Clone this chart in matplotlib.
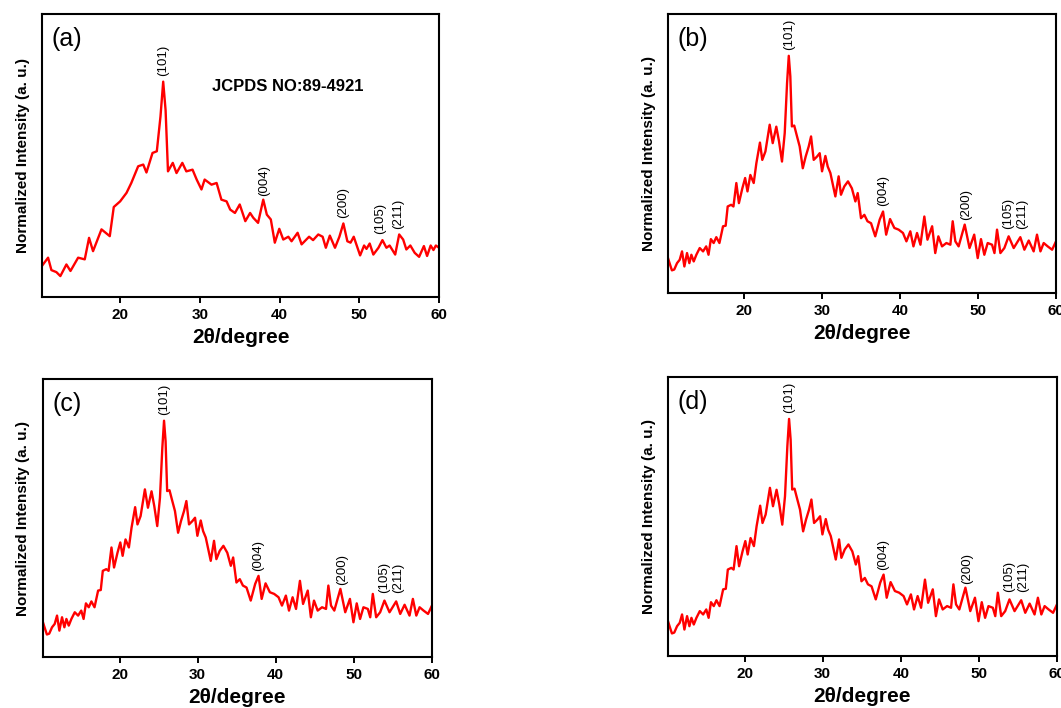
import numpy as np
import matplotlib.pyplot as plt

plt.rcParams['font.family'] = ['Liberation Sans', 'DejaVu Sans']

# sample (a): 2theta and normalized intensity
theta_a = [10.17, 10.96, 11.38, 12.0, 12.5, 13.26, 13.77, 14.73, 15.56, 16.1,
           16.6, 17.66, 18.7, 19.2, 20.0, 20.8, 21.4, 22.26, 22.9, 23.3,
           24.06, 24.6, 25.06, 25.4, 25.7, 26.0, 26.6, 27.07, 27.8, 28.3,
           29.08, 29.6, 30.2, 30.6, 31.46, 32.1, 32.7, 33.35, 33.8, 34.4,
           35.0, 35.7, 36.3, 36.7, 37.3, 37.95, 38.4, 38.9, 39.4, 39.96,
           40.46, 41.1, 41.5, 42.26, 42.76, 43.7, 44.2, 44.85, 45.4, 45.8,
           46.3, 46.95, 47.5, 48.0, 48.5, 48.9, 49.3, 50.1, 50.6, 50.9,
           51.3, 51.76, 52.4, 52.9, 53.4, 53.8, 54.5, 55.0, 55.5, 55.9,
           56.4, 56.95, 57.5, 58.1, 58.5, 58.95, 59.3, 59.6, 60.0]
int_a = [0.109, 0.139, 0.095, 0.088, 0.074, 0.115, 0.092, 0.139, 0.133, 0.209,
         0.162, 0.239, 0.215, 0.318, 0.338, 0.368, 0.403, 0.462, 0.468, 0.44,
         0.509, 0.515, 0.638, 0.761, 0.66, 0.444, 0.474, 0.438, 0.474, 0.444,
         0.45, 0.415, 0.38, 0.415, 0.397, 0.403, 0.344, 0.338, 0.309, 0.297,
         0.327, 0.268, 0.297, 0.28, 0.262, 0.344, 0.291, 0.274, 0.192, 0.241,
         0.203, 0.213, 0.197, 0.227, 0.186, 0.213, 0.201, 0.221, 0.213, 0.174,
         0.217, 0.174, 0.213, 0.26, 0.197, 0.192, 0.213, 0.147, 0.182, 0.17,
         0.189, 0.15, 0.174, 0.201, 0.174, 0.182, 0.15, 0.221, 0.203, 0.168,
         0.182, 0.156, 0.142, 0.18, 0.145, 0.182, 0.166, 0.182, 0.174]

# samples (b), (c), (d) look the same
theta_b = [10.2, 10.4, 10.7, 11.0, 11.36, 11.7, 12.0, 12.3, 12.64, 12.94,
           13.2, 13.5, 13.84, 14.27, 14.7, 15.1, 15.4, 15.7, 16.06, 16.4,
           16.8, 17.26, 17.6, 17.86, 18.3, 18.6, 18.97, 19.3, 19.74, 20.1,
           20.4, 20.77, 21.2, 21.54, 22.0, 22.3, 22.7, 23.25, 23.64, 24.1,
           24.45, 24.83, 25.18, 25.48, 25.7, 25.9, 26.1, 26.4, 26.76, 27.1,
           27.5, 27.87, 28.26, 28.56, 28.9, 29.33, 29.67, 29.97, 30.4, 30.7,
           31.04, 31.68, 32.1, 32.4, 32.83, 33.3, 33.8, 34.25, 34.55, 34.97,
           35.4, 35.8, 36.26, 36.8, 37.37, 37.8, 38.2, 38.7, 39.25, 39.8,
           40.36, 40.8, 41.3, 41.7, 42.16, 42.6, 43.1, 43.5, 44.1, 44.5,
           44.9, 45.37, 45.93, 46.44, 46.74, 47.08, 47.5, 48.28, 48.9, 49.5,
           49.95, 50.37, 50.8, 51.23, 51.79, 52.1, 52.43, 52.86, 53.37, 53.92,
           54.57, 55.42, 55.94, 56.5, 57.13, 57.56, 58.0, 58.42, 58.93, 59.5,
           60.0]
int_b = [0.125, 0.107, 0.081, 0.084, 0.107, 0.119, 0.149, 0.095, 0.143, 0.107,
         0.137, 0.113, 0.137, 0.161, 0.149, 0.167, 0.137, 0.193, 0.179, 0.2,
         0.179, 0.239, 0.241, 0.31, 0.316, 0.31, 0.394, 0.322, 0.375, 0.412,
         0.364, 0.423, 0.394, 0.465, 0.539, 0.477, 0.507, 0.603, 0.537, 0.596,
         0.543, 0.471, 0.573, 0.752, 0.85, 0.776, 0.597, 0.6, 0.561, 0.525,
         0.447, 0.489, 0.525, 0.561, 0.477, 0.489, 0.501, 0.436, 0.491, 0.453,
         0.43, 0.346, 0.418, 0.352, 0.382, 0.4, 0.375, 0.328, 0.358, 0.268,
         0.28, 0.257, 0.25, 0.203, 0.263, 0.292, 0.209, 0.265, 0.233, 0.227,
         0.215, 0.185, 0.221, 0.167, 0.215, 0.173, 0.274, 0.191, 0.239, 0.143,
         0.203, 0.167, 0.179, 0.173, 0.257, 0.185, 0.167, 0.245, 0.161, 0.209,
         0.125, 0.193, 0.137, 0.179, 0.173, 0.143, 0.227, 0.143, 0.161, 0.203,
         0.161, 0.2, 0.155, 0.188, 0.149, 0.209, 0.149, 0.179, 0.167, 0.155,
         0.185]

hkl = ['(101)', '(004)', '(200)', '(105)', '(211)']
hkl_x_a = [25.4, 38.0, 48.0, 52.6, 54.9]
hkl_y_a = [0.78, 0.356, 0.28, 0.221, 0.239]
hkl_x_b = [25.7, 37.8, 48.5, 53.9, 55.7]
hkl_y_b = [0.871, 0.31, 0.26, 0.229, 0.229]

fig = plt.figure(figsize=(10.61, 7.08), dpi=100)
boxes = {'a': [0.0396, 0.5805, 0.3742, 0.3997],
         'b': [0.6296, 0.5862, 0.3657, 0.3941],
         'c': [0.0405, 0.0720, 0.3666, 0.3927],
         'd': [0.6296, 0.0734, 0.3666, 0.3940]}

for key in ['a', 'b', 'c', 'd']:
    ax = fig.add_axes(boxes[key])
    if key == 'a':
        x, y, hx, hy = theta_a, int_a, hkl_x_a, hkl_y_a
    else:
        x, y, hx, hy = theta_b, int_b, hkl_x_b, hkl_y_b
    ax.plot(x, y, color='#ff0000', lw=1.7)
    ax.set_xlim(10.2, 60)
    ax.set_ylim(0, 1)
    ax.set_yticks([])
    ax.set_xticks([20, 30, 40, 50, 60])
    ax.tick_params(axis='x', direction='out', length=4, width=1.4, labelsize=11, pad=4)
    for lab in ax.get_xticklabels():
        lab.set_fontweight('bold')
    for s in ax.spines.values():
        s.set_linewidth(1.5)
    ax.set_xlabel('2\u03b8/degree', fontsize=15, fontweight='bold', labelpad=4)
    ax.set_ylabel('Normalized Intensity (a. u.)', fontsize=11, fontweight='bold', labelpad=9)
    ax.text(0.025, 0.955, '(%s)' % key, transform=ax.transAxes, fontsize=18,
            va='top', ha='left')
    for t, px, py in zip(hkl, hx, hy):
        ax.text(px, py, t, rotation=90, ha='center', va='bottom', fontsize=9.5)
    if key == 'a':
        ax.text(31.5, 0.744, 'JCPDS NO:89-4921', fontsize=12, fontweight='bold',
                va='center', ha='left')

fig.savefig('out.png', dpi=100)
